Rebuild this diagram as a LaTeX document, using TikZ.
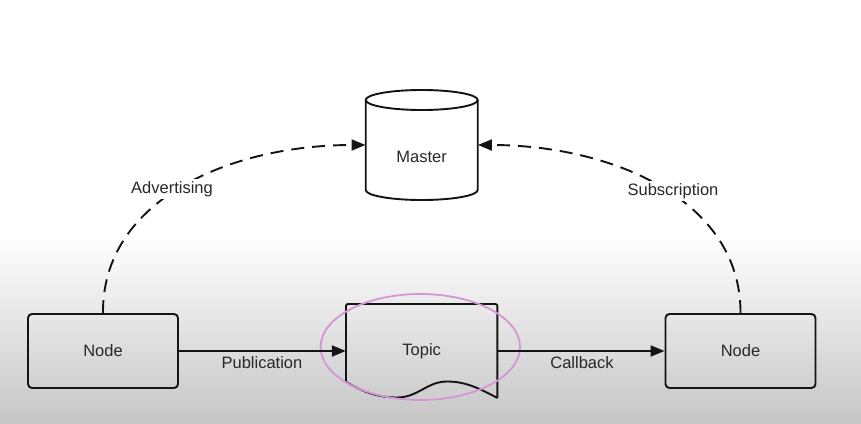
\documentclass[tikz,border=0pt]{standalone}
\usepackage{fontspec}
\setmainfont{Liberation Sans}
\usetikzlibrary{arrows.meta}
\definecolor{bggray}{RGB}{198,198,198}
\definecolor{ink}{RGB}{20,20,20}
\definecolor{txt}{RGB}{40,40,40}
\definecolor{pinkring}{RGB}{214,150,214}
\tikzset{
  boxnode/.style={draw=ink, line width=1.9pt, rounded corners=4pt, minimum width=150pt, minimum height=74pt, inner sep=0pt, text=txt, font=\fontsize{16.5}{20}\selectfont},
  plain/.style={inner sep=0pt, text=txt, font=\fontsize{16.5}{20}\selectfont},
  cutlabel/.style={plain, fill=white, inner sep=2pt},
  flow/.style={draw=ink, line width=1.9pt, -{Triangle[length=14pt,width=11pt]}},
  dashflow/.style={flow, dash pattern=on 13pt off 8pt},
  shapeline/.style={draw=ink, line width=1.9pt, line join=round}
}
\begin{document}
\begin{tikzpicture}[x=1pt,y=-1pt]
\useasboundingbox (0,0) rectangle (861,423);
\fill[white] (0,0) rectangle (861,423);
\shade[top color=white, bottom color=bggray] (0,235) rectangle (861,423);

% nodes
\node[boxnode] (left) at (103,351) {Node};
\node[boxnode] (right) at (740.5,351) {Node};
\node[plain, minimum width=112pt, minimum height=110pt] (master) at (421.7,157) {Master};
\node[plain, minimum width=151.4pt, minimum height=94pt] (topic) at (421.7,351) {Topic};

% master cylinder
\draw[shapeline] (421.7,100) ellipse [x radius=56pt, y radius=10pt];
\draw[shapeline] (365.7,100) -- (365.7,190)
  arc[start angle=180, end angle=360, x radius=56pt, y radius=10pt]
  -- (477.7,100);

% topic document shape
\draw[shapeline, rounded corners=2pt] (346,382) -- (346,304) -- (497.4,304) -- (497.4,398);
\draw[shapeline] (497.4,398) .. controls (477,387) and (464,381.5) .. (447,381.5)
  .. controls (427,381.5) and (418,397.5) .. (397,397.5)
  .. controls (375,397.5) and (360,390) .. (346,382);

% pink ring
\draw[pinkring, line width=1.8pt] (420.3,347) ellipse [x radius=99.7pt, y radius=53pt];

% connectors
\draw[flow] (left.east) -- (topic.west);
\draw[flow] (topic.east) -- (right.west);
\draw[dashflow] (left.north) .. controls (102,200) and (230,145) .. ([yshift=12pt]master.west);
\draw[dashflow] (right.north) .. controls (741,200) and (612,145) .. ([yshift=12pt]master.east);

% labels
\node[plain] (lpub) at (262,363) {Publication};
\node[plain] (lcb) at (582,363) {Callback};
\node[cutlabel] (ladv) at (172,189) {Advertising};
\node[cutlabel] (lsub) at (673,191) {Subscription};
\end{tikzpicture}
\end{document}
